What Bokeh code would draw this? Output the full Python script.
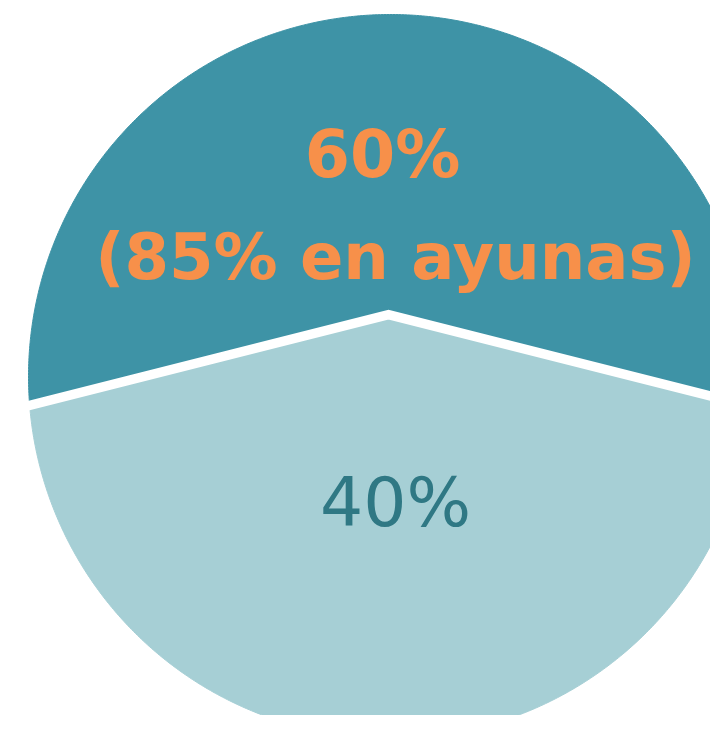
import numpy as np
from bokeh.plotting import figure
from bokeh.models import Range1d, ColumnDataSource
from bokeh.core.properties import value
from bokeh.embed import file_html
from bokeh.resources import INLINE

# ---- data ----
categories = ["60%", "40%"]
shares = [60, 40]
top_label_line1 = "60%"
top_label_line2 = "(85% en ayunas)"
bottom_label = "40%"
colors = ["#3e93a6", "#a6cfd5"]

# ---- geometry / style constants ----
APEX = (-0.0055, 0.171)     # split point, in units of the circle radius
TILT = 0.779                # flattening of the split rays
PX = 362.0                  # pixels per radius
CX, CY = 390.0, 376.0       # circle centre in pixels from the top-left

def ray_hit(p, ang_deg):
    d = np.array([np.cos(np.radians(ang_deg)), TILT * np.sin(np.radians(ang_deg))])
    d = d / np.linalg.norm(d)
    p = np.array(p)
    b = p.dot(d)
    t = -b + np.sqrt(b * b - (p.dot(p) - 1.0))
    return p + t * d, d

total = float(sum(shares))
first_span = 360.0 * shares[0] / total
a0 = 90.0 - first_span / 2.0
bounds = [a0]
for s in shares:
    bounds.append(bounds[-1] + 360.0 * s / total)

xs, ys = [], []
for i in range(len(shares)):
    s_pt, _ = ray_hit(APEX, bounds[i])
    e_pt, _ = ray_hit(APEX, bounds[i + 1])
    phi0 = np.arctan2(s_pt[1], s_pt[0])
    phi1 = np.arctan2(e_pt[1], e_pt[0])
    while phi1 <= phi0:
        phi1 += 2 * np.pi
    phi = np.linspace(phi0, phi1, 400)
    xs.append([APEX[0]] + list(np.cos(phi)) + [APEX[0]])
    ys.append([APEX[1]] + list(np.sin(phi)) + [APEX[1]])

src = ColumnDataSource(dict(xs=xs, ys=ys, color=colors, name=categories))

W, H = 710, 715

p = figure(width=W, height=H, output_backend="svg", toolbar_location=None,
           x_range=Range1d((0 - CX) / PX, (W - CX) / PX),
           y_range=Range1d((CY - H) / PX, (CY - 0) / PX),
           min_border=0, background_fill_color="white", border_fill_color="white")
p.axis.visible = False
p.grid.visible = False
p.outline_line_color = None

p.patches("xs", "ys", fill_color="color", line_color="color", line_width=1, source=src)

# white gaps along split rays
gx, gy = [], []
for ang in (bounds[0], bounds[1]):
    pt, d = ray_hit(APEX, ang)
    far = pt + 0.1 * d
    gx.append(far[0]); gy.append(far[1])
p.multi_line([[gx[1], APEX[0], gx[0]]], [[gy[1], APEX[1], gy[0]]],
             line_color="white", line_width=9.5, line_join="miter")

def X(px):
    return (px - CX) / PX

def Y(py):
    return (CY - py) / PX

p.text(x=[X(382)], y=[Y(154)], text=[top_label_line1], text_font=value("DejaVu Sans"),
       text_font_style="bold", text_font_size="65px", text_color="#f7904a",
       text_align="center", text_baseline="alphabetic")
p.text(x=[X(395)], y=[Y(256)], text=[top_label_line2], text_font=value("DejaVu Sans"),
       text_font_style="bold", text_font_size="64px", text_color="#f7904a",
       text_align="center", text_baseline="alphabetic")
p.text(x=[X(395)], y=[Y(502)], text=[bottom_label], text_font=value("DejaVu Sans"),
       text_font_size="68px", text_color="#2f7884",
       text_align="center", text_baseline="alphabetic")

open("out.html", "w").write(file_html(p, INLINE))
